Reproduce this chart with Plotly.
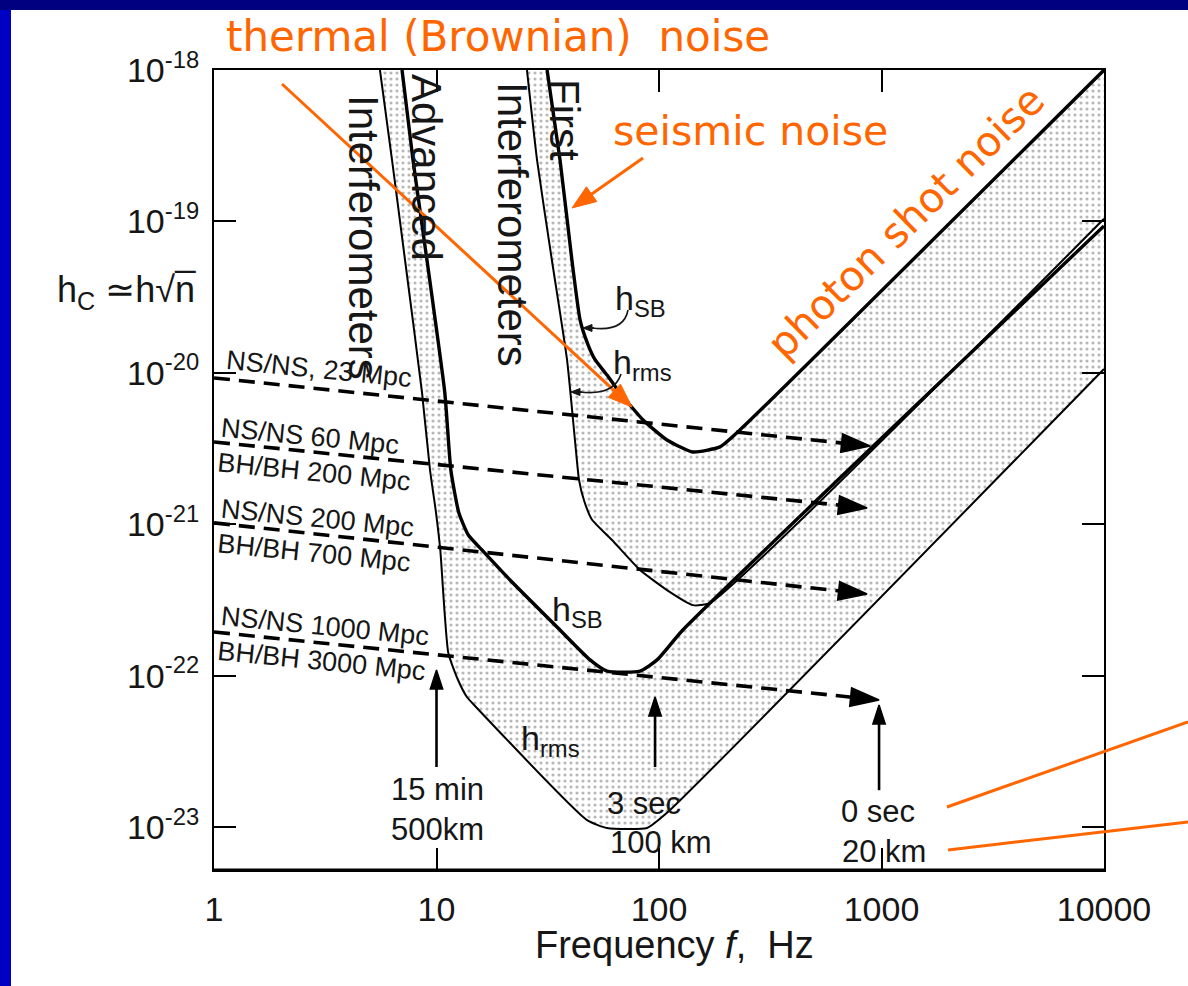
import numpy as np
import plotly.graph_objects as go

# ---------------- data ----------------
# First interferometers: h_SB (thick) and h_rms (thin)
first_sb_f = [31.4, 35.9, 40.6, 44.2, 48.0, 51.6, 58.4, 66.8, 84.8, 108.6, 142, 188, 231, 10000]
first_sb_h = [1.0e-18, 2.55e-19, 5.56e-20, 2.23e-20, 1.53e-20, 1.22e-20, 9.66e-21, 7.36e-21,
              4.88e-21, 3.60e-21, 3.0e-21, 3.24e-21, 4.19e-21, 1.0e-18]
first_rms_f = [25.5, 28.3, 33.0, 38.6, 41.9, 43.7, 46.0, 50.0, 61.5, 82.2, 108.6, 142, 169, 10000]
first_rms_h = [1.0e-18, 2.55e-19, 5.56e-20, 1.22e-20, 3.60e-21, 1.96e-21, 1.44e-21, 1.07e-21,
               7.87e-22, 4.98e-22, 3.67e-22, 2.92e-22, 3.01e-22, 1.04e-19]
# Advanced interferometers: h_SB (thick) and h_rms (thin)
adv_sb_f = [7.0, 7.84, 9.06, 10.9, 11.6, 12.6, 13.9, 16.0, 21.4, 35.9, 49.0, 58.4, 82.2, 98, 128, 10000]
adv_sb_h = [1e-18, 2.55e-19, 5.56e-20, 7.36e-21, 2.28e-21, 1.19e-21, 8.49e-22, 6.76e-22, 4.28e-22,
            2.0e-22, 1.27e-22, 1.07e-22, 1.07e-22, 1.27e-22, 2.0e-22, 9.33e-20]
adv_rms_f = [5.57, 6.31, 7.22, 8.61, 9.35, 9.95, 10.4, 11.3, 12.5, 13.7, 14.9, 47.5, 58.4, 88.3, 108.6, 10000]
adv_rms_h = [1e-18, 2.55e-19, 5.56e-20, 7.36e-21, 2.28e-21, 1.19e-21, 6.76e-22, 1.41e-22, 9.35e-23,
             7.22e-23, 6.3e-23, 1.11e-23, 9.85e-24, 9.85e-24, 1.24e-23, 1.06e-20]

# Inspiral (NS/NS, BH/BH) dashed tracks
ns_labels = ["NS/NS, 23 Mpc", "NS/NS 60 Mpc<br>BH/BH 200 Mpc",
             "NS/NS 200 Mpc<br>BH/BH 700 Mpc", "NS/NS 1000 Mpc<br>BH/BH 3000 Mpc"]
ns_f_start = [1, 1, 1, 1]
ns_h_start = [9.25e-21, 3.49e-21, 1.02e-21, 1.94e-22]
ns_f_end = [888, 861, 861, 975]
ns_h_end = [3.29e-21, 1.28e-21, 3.46e-22, 6.9e-23]

# Vertical arrows (time to coalescence / separation)
arrow_f = [10, 96, 975]
arrow_h_tip = [1.09e-22, 7.22e-23, 6.4e-23]
arrow_h_tail = [2.49e-23, 2.49e-23, 1.75e-23]

# Axis ticks
x_tickvals = [1, 10, 100, 1000, 10000]
x_ticktext = ["1", "10", "100", "1000", "10000"]
y_tickvals = [1e-23, 1e-22, 1e-21, 1e-20, 1e-19, 1e-18]
y_ticktext = ["10<sup>-23</sup>", "10<sup>-22</sup>", "10<sup>-21</sup>",
              "10<sup>-20</sup>", "10<sup>-19</sup>", "10<sup>-18</sup>"]

# ---------------- layout helpers ----------------
W, H = 1188, 986
L, R, T, B = 214, 1104, 70, 870


def P(px, py):
    return (px - L) / (R - L), (B - py) / (B - T)


INK = "#161616"
ORANGE = "#FF6600"
SANS = "Liberation Sans, Arial, sans-serif"
TAHOMA = "DejaVu Sans, Verdana, sans-serif"

fig = go.Figure()

pattern = dict(shape=".", size=6, solidity=0.22, fgcolor="#6f6f6f", bgcolor="white")


def band(f_up, h_up, f_lo, h_lo):
    xs = list(f_up) + list(f_lo)[::-1]
    ys = list(h_up) + list(h_lo)[::-1]
    fig.add_trace(go.Scatter(x=xs, y=ys, mode="lines", fill="toself",
                             line=dict(width=0, color="rgba(0,0,0,0)"),
                             fillcolor="rgba(0,0,0,0)", fillpattern=pattern,
                             hoverinfo="skip", showlegend=False))


band(first_sb_f, first_sb_h, first_rms_f, first_rms_h)
band(adv_sb_f, adv_sb_h, adv_rms_f, adv_rms_h)

for f, h, w in [(first_rms_f, first_rms_h, 2.0), (adv_rms_f, adv_rms_h, 2.0),
                (first_sb_f, first_sb_h, 3.4), (adv_sb_f, adv_sb_h, 3.4)]:
    fig.add_trace(go.Scatter(x=f, y=h, mode="lines",
                             line=dict(color="black", width=w, shape="spline", smoothing=0.5),
                             hoverinfo="skip", showlegend=False))

arrow_marker = dict(symbol="arrow", angleref="previous", color="black", opacity=1,
                    line=dict(width=1.5, color="black"))

# dashed inspiral tracks ending in arrow heads
for f0, h0, f1, h1 in zip(ns_f_start, ns_h_start, ns_f_end, ns_h_end):
    fig.add_trace(go.Scatter(x=[f0, f1], y=[h0, h1], mode="lines+markers",
                             line=dict(color="black", width=3.6, dash="16px,9px"),
                             marker=dict(size=[0, 30], **arrow_marker),
                             hoverinfo="skip", showlegend=False, cliponaxis=False))

# vertical arrows
for f, ht, hb in zip(arrow_f, arrow_h_tip, arrow_h_tail):
    fig.add_trace(go.Scatter(x=[f, f], y=[hb, ht], mode="lines+markers",
                             line=dict(color="black", width=2.6),
                             marker=dict(size=[0, 20], **arrow_marker),
                             hoverinfo="skip", showlegend=False, cliponaxis=False))

annotations = []


def label(text, px, py, size, font=SANS, color=INK, angle=0, align="center"):
    x, y = P(px, py)
    annotations.append(dict(x=x, y=y, xref="paper", yref="paper", text=text, showarrow=False,
                            textangle=angle, align=align, xanchor="center", yanchor="middle",
                            font=dict(family=font, size=size, color=color)))


# inspiral labels
ns_pos = [(319, 369), (316, 454), (316, 535), (323, 643)]
for t, (px, py) in zip(ns_labels, ns_pos):
    label(t, px, py, 27, angle=5.7, align="left")

# arrow labels
label("15 min", 437, 789, 31)
label("500km", 437, 829, 31)
label("3 sec", 644, 803, 31)
label("100 km", 661, 842, 31)
label("0 sec", 878, 811, 31)
label("20 km", 884, 851, 31)

# curve labels
label("h<sub>SB</sub>", 640, 300, 34)
label("h<sub>rms</sub>", 642, 364, 34)
label("h<sub>SB</sub>", 577, 611, 34)
label("h<sub>rms</sub>", 550, 740, 34)

# rotated interferometer labels
label("Interferometers", 364, 237, 42, angle=90)
label("Advanced", 426, 167, 42, angle=90)
label("Interferometers", 513, 224, 42, angle=90)
label("First", 565, 120, 42, angle=90)

# axis titles
label("h<sub>C</sub> \u2243h\u221an\u0305", 126, 292, 36)
label("Frequency <i>f</i>,\u00a0\u00a0Hz", 674, 945, 38)

# orange slide overlays
label("thermal (Brownian)\u00a0\u00a0noise", 498, 37, 42, font=TAHOMA, color=ORANGE)
label("seismic noise", 750, 131, 41, font=TAHOMA, color=ORANGE)
label("photon shot noise", 906, 222, 41, font=TAHOMA, color=ORANGE, angle=-44.5)

shapes = []


def seg(p0, p1, color, width):
    x0, y0 = P(*p0)
    x1, y1 = P(*p1)
    shapes.append(dict(type="line", xref="paper", yref="paper", x0=x0, y0=y0, x1=x1, y1=y1,
                       line=dict(color=color, width=width)))


def arrow_px(tip, tail, color, width, length, head_w):
    dx, dy = tip[0] - tail[0], tip[1] - tail[1]
    d = (dx * dx + dy * dy) ** 0.5
    ux, uy = dx / d, dy / d
    nx, ny = -uy, ux
    bx, by = tip[0] - ux * length, tip[1] - uy * length
    seg(tail, (bx + ux * 2, by + uy * 2), color, width)
    pts = [P(*tip), P(bx + nx * head_w / 2, by + ny * head_w / 2),
           P(bx - nx * head_w / 2, by - ny * head_w / 2)]
    path = "M {} {} L {} {} L {} {} Z".format(*[c for p in pts for c in p])
    shapes.append(dict(type="path", xref="paper", yref="paper", path=path,
                       fillcolor=color, line=dict(color=color, width=1)))


arrow_px((632, 407), (282, 84), ORANGE, 3, 24, 18)
arrow_px((572, 208), (643, 158), ORANGE, 3, 24, 18)

seg((947, 807), (1188, 722), ORANGE, 3)
seg((948, 850), (1188, 822), ORANGE, 3)
# slightly heavier bottom frame, as in the scan
seg((L, B), (R, B), "black", 3)


def curve(p0, c, p1):
    a, b, d = P(*p0), P(*c), P(*p1)
    shapes.append(dict(type="path", xref="paper", yref="paper",
                       path=f"M {a[0]},{a[1]} Q {b[0]},{b[1]} {d[0]},{d[1]}",
                       line=dict(color=INK, width=1.6)))


curve((628, 310), (624, 332), (592, 328))
curve((621, 374), (614, 396), (580, 392))
arrow_px((583, 328), (594, 328), INK, 1.6, 9, 7)
arrow_px((571, 392), (582, 392), INK, 1.6, 9, 7)


def rect(p0, p1, color):
    x0, y0 = P(*p0)
    x1, y1 = P(*p1)
    shapes.append(dict(type="rect", xref="paper", yref="paper", x0=x0, y0=y0, x1=x1, y1=y1,
                       line=dict(width=0), fillcolor=color, layer="above"))


rect((0, 0), (W, 10), "#000080")
rect((0, 10), (11, H), "#0000C4")

axis_common = dict(type="log", showgrid=False, zeroline=False, showline=True, linecolor="black",
                   linewidth=2, mirror="ticks", ticks="inside", ticklen=22, tickwidth=2,
                   tickcolor="black", tickfont=dict(family=SANS, size=34, color=INK))

fig.update_layout(
    width=W, height=H, margin=dict(l=L, r=W - R, t=T, b=H - B, pad=0),
    paper_bgcolor="white", plot_bgcolor="white", showlegend=False,
    xaxis=dict(range=[0, 4], tickvals=x_tickvals, ticktext=x_ticktext, ticklabelstandoff=8,
               **axis_common),
    yaxis=dict(range=[-23.284, -18], tickvals=y_tickvals, ticktext=y_ticktext,
               ticklabelstandoff=6, **axis_common),
    annotations=annotations, shapes=shapes,
)

fig.write_html("out.html", config={"displayModeBar": False},
               post_script="document.body.style.margin='0px';document.body.style.overflow='hidden';")
